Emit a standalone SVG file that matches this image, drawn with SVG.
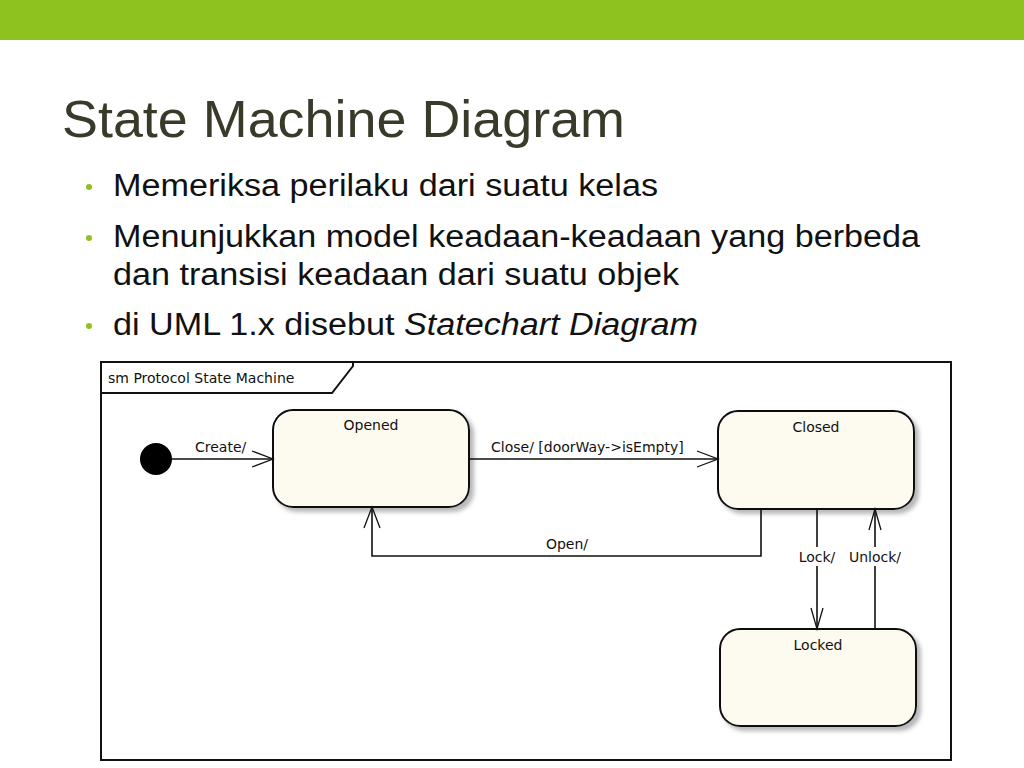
<svg xmlns="http://www.w3.org/2000/svg" width="1024" height="768" viewBox="0 0 1024 768">
<style>
.t{font-family:"Liberation Sans",Arial,sans-serif;fill:#3a3a2a}
.b{font-size:31px;fill:#111}
.s{font-family:"DejaVu Sans",sans-serif;font-size:14px;fill:#111}
.st{fill:#fdfaf0;stroke:#111;stroke-width:2}
.c{fill:none;stroke:#111;stroke-width:1.6}
.ah{fill:none;stroke:#111;stroke-width:1.3}
</style>
<defs>
<filter id="sh" x="-5%" y="-5%" width="115%" height="120%"><feDropShadow dx="4" dy="4" stdDeviation="2" flood-color="#999" flood-opacity="0.7"/></filter>
</defs>
<rect width="1024" height="768" fill="#fff"/>
<rect width="1024" height="40" fill="#8dc21f"/>
<text class="t" x="62" y="137" font-size="52" fill="#404033" textLength="563" lengthAdjust="spacingAndGlyphs">State Machine Diagram</text>
<g>
<circle cx="89" cy="187" r="3" fill="#8dc21f"/>
<circle cx="89" cy="238" r="3" fill="#8dc21f"/>
<circle cx="89" cy="326" r="3" fill="#8dc21f"/>
<text class="t b" x="113" y="196" textLength="545" lengthAdjust="spacingAndGlyphs">Memeriksa perilaku dari suatu kelas</text>
<text class="t b" x="113" y="247" textLength="807" lengthAdjust="spacingAndGlyphs">Menunjukkan model keadaan-keadaan yang berbeda</text>
<text class="t b" x="113" y="285" textLength="566" lengthAdjust="spacingAndGlyphs">dan transisi keadaan dari suatu objek</text>
<text class="t b" x="113" y="335" textLength="585" lengthAdjust="spacingAndGlyphs">di UML 1.x disebut <tspan font-style="italic">Statechart Diagram</tspan></text>
</g>
<g id="frame">
<rect x="101" y="362" width="850" height="398" fill="#fff" stroke="#111" stroke-width="2"/>
<path d="M101 393 H332 L353 366 V362" fill="none" stroke="#111" stroke-width="2"/>
<text class="s" x="108" y="383">sm Protocol State Machine</text>
</g>
<g id="initial"><circle cx="156" cy="459" r="16" fill="#000"/></g>
<g id="opened"><rect class="st" x="273" y="410" width="196" height="97" rx="20" filter="url(#sh)"/><text class="s" x="371" y="430" text-anchor="middle">Opened</text></g>
<g id="closed"><rect class="st" x="718" y="411" width="196" height="98" rx="20" filter="url(#sh)"/><text class="s" x="816" y="432" text-anchor="middle">Closed</text></g>
<g id="locked"><rect class="st" x="720" y="629" width="196" height="97" rx="20" filter="url(#sh)"/><text class="s" x="818" y="650" text-anchor="middle">Locked</text></g>
<g id="connectors">
<path class="c" d="M172 459 H273"/><path class="ah" d="M252 451 L273 459 L252 467"/>
<text class="s" x="195" y="452">Create/</text>
<path class="c" d="M469 459 H718"/><path class="ah" d="M697 451 L718 459 L697 467"/>
<text class="s" x="491" y="452">Close/ [doorWay-&gt;isEmpty]</text>
<path class="c" d="M761 509 V556 H372 V507"/><path class="ah" d="M364 528 L372 507 L380 528"/>
<text class="s" x="567" y="549" text-anchor="middle">Open/</text>
<path class="c" d="M817 509 V547 M817 566 V629"/><path class="ah" d="M811 608 L817 629 L823 608"/>
<text class="s" x="817" y="562" text-anchor="middle">Lock/</text>
<path class="c" d="M875 509 V547 M875 566 V629"/><path class="ah" d="M869 530 L875 509 L881 530"/>
<text class="s" x="875" y="562" text-anchor="middle">Unlock/</text>
</g>
</svg>
